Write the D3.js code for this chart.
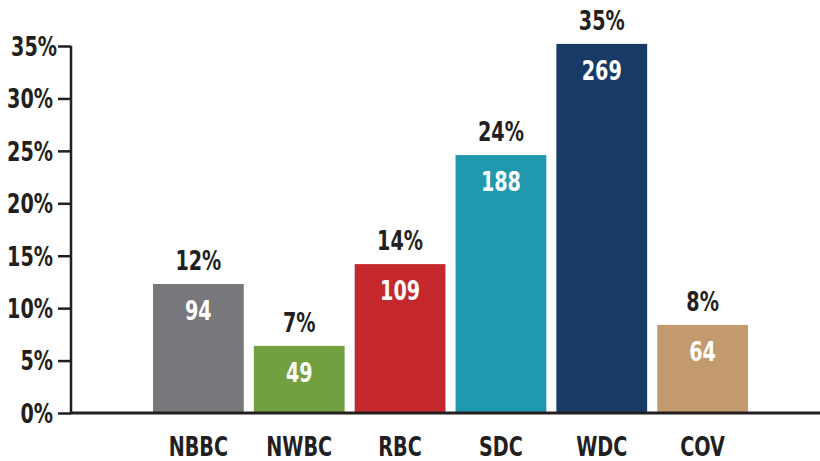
<!DOCTYPE html>
<html>
<head>
<meta charset="utf-8">
<script src="https://cdn.jsdelivr.net/npm/d3@7"></script>
<style>
  html, body { margin: 0; padding: 0; background: #fff; }
  svg text { font-family: "Liberation Sans Narrow", "DejaVu Sans Condensed", "Roboto Condensed", sans-serif; font-weight: bold; }
</style>
</head>
<body>
<svg id="chart" width="820" height="461"></svg>
<script>
// chart data
const categories = ["NBBC", "NWBC", "RBC", "SDC", "WDC", "COV"];
const shares = [12.3, 6.4, 14.2, 24.6, 35.2, 8.4];
const shareLabels = ["12%", "7%", "14%", "24%", "35%", "8%"];
const counts = [94, 49, 109, 188, 269, 64];
const barColors = ["#78777c", "#72a040", "#c5282c", "#2098ae", "#173a66", "#c29a6d"];
const yTicks = [0, 5, 10, 15, 20, 25, 30, 35];

const width = 820;
const height = 461;
const ink = "#231f20";

const svg = d3.select("#chart");

const x = d3.scaleBand()
  .domain(categories)
  .range([153, 748])
  .paddingInner(0.1)
  .paddingOuter(0);

const y = d3.scaleLinear()
  .domain([0, 35])
  .range([413, 46]);

// bars
svg.append("g")
  .selectAll("rect")
  .data(categories)
  .join("rect")
  .attr("x", (d) => x(d))
  .attr("y", (d, i) => y(shares[i]))
  .attr("width", x.bandwidth())
  .attr("height", (d, i) => y(0) - y(shares[i]))
  .attr("fill", (d, i) => barColors[i]);

// percentage labels above bars
svg.append("g")
  .selectAll("text")
  .data(categories)
  .join("text")
  .attr("class", "cond")
  .attr("x", (d) => x(d) + x.bandwidth() / 2)
  .attr("y", (d, i) => y(shares[i]) - 14)
  .attr("text-anchor", "middle")
  .style("font-size", "26px")
  .style("fill", ink)
  .text((d, i) => shareLabels[i]);

// counts inside bars
svg.append("g")
  .selectAll("text")
  .data(categories)
  .join("text")
  .attr("class", "cond")
  .attr("x", (d) => x(d) + x.bandwidth() / 2)
  .attr("y", (d, i) => y(shares[i]) + 36)
  .attr("text-anchor", "middle")
  .style("font-size", "26px")
  .style("fill", "#fff")
  .text((d, i) => counts[i]);

// y axis
const yAxis = svg.append("g")
  .attr("transform", "translate(71,0)")
  .call(d3.axisLeft(y).tickValues(yTicks).tickSize(13).tickPadding(5).tickFormat((d) => d + "%"));

yAxis.attr("font-family", null).attr("font-size", null);
yAxis.select(".domain").attr("d", `M0,${y(35)}V${y(0)}`).attr("stroke", ink).attr("stroke-width", 2.5);
yAxis.selectAll(".tick line").attr("stroke", ink).attr("stroke-width", 2.5);
yAxis.selectAll(".tick text")
  .attr("class", "cond")
  .attr("dy", "0.36em")
  .attr("x", (d) => (d === 35 ? -14 : -18))
  .style("font-size", "26px")
  .style("fill", ink);

// x axis line
svg.append("line")
  .attr("x1", 70)
  .attr("x2", width)
  .attr("y1", y(0))
  .attr("y2", y(0))
  .attr("stroke", ink)
  .attr("stroke-width", 3);

// category labels
svg.append("g")
  .selectAll("text")
  .data(categories)
  .join("text")
  .attr("class", "cond")
  .attr("x", (d) => x(d) + x.bandwidth() / 2)
  .attr("y", 456)
  .attr("text-anchor", "middle")
  .style("font-size", "26px")
  .style("fill", ink)
  .text((d) => d);

// squeeze text to look like a condensed face
svg.selectAll("text.cond").each(function () {
  const w = this.getComputedTextLength();
  d3.select(this).attr("textLength", w * 0.82).attr("lengthAdjust", "spacingAndGlyphs");
});
</script>
</body>
</html>
